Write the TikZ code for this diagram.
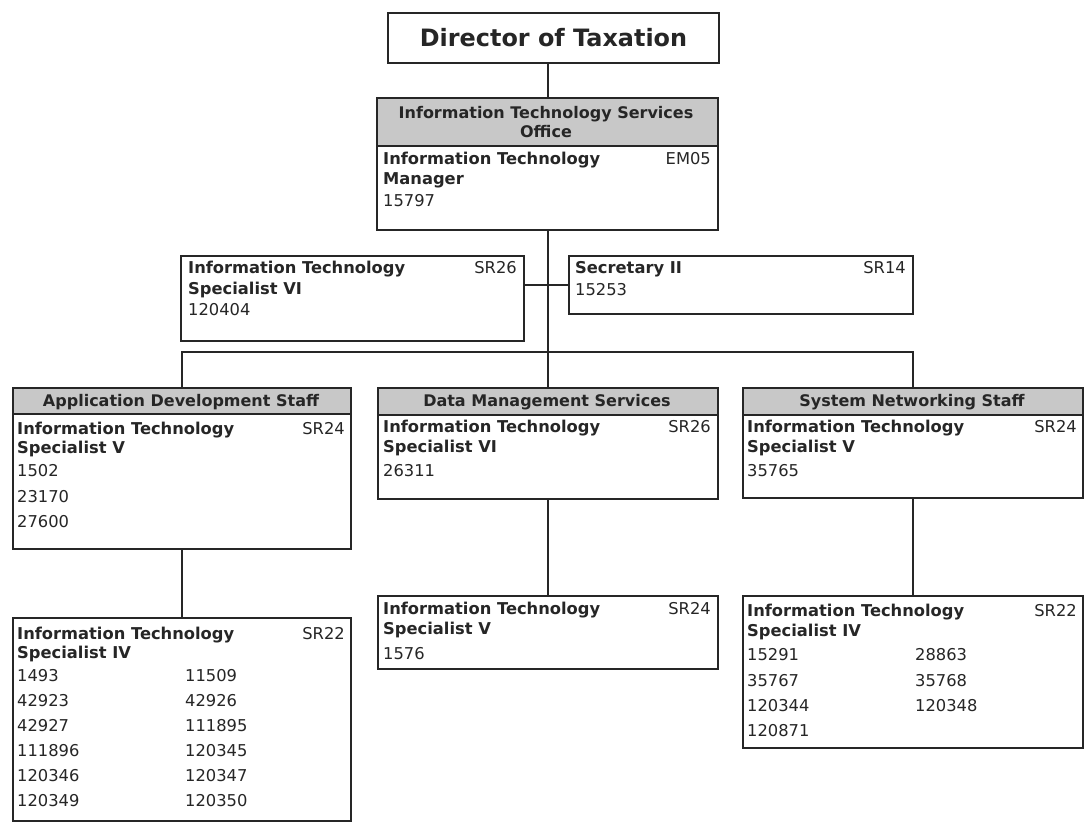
\documentclass[tikz,border=0pt]{standalone}
\usepackage{fontspec}
\setmainfont{DejaVu Sans}
\usetikzlibrary{calc}
\definecolor{ink}{HTML}{262626}
\definecolor{hdr}{HTML}{C8C8C8}
\newcommand{\fsn}{\fontsize{16.3}{19}\selectfont}
\newcommand{\fsh}{\fontsize{16}{19}\selectfont}
\newcommand{\fsbig}{\fontsize{23.9}{28}\selectfont}
\begin{document}
\begin{tikzpicture}[x=1pt,y=-1pt,
  box/.style={draw=ink, line width=2pt, fill=white, anchor=north west, inner sep=0pt},
  hdrbox/.style={draw=ink, line width=2pt, fill=hdr, anchor=north west, inner sep=0pt},
  conn/.style={draw=ink, line width=2pt},
  tb/.style={font=\fsn\bfseries, text=ink, inner sep=0pt, anchor=mid west, yshift=-2pt},
  tr/.style={font=\fsn, text=ink, inner sep=0pt, anchor=mid west, yshift=-2pt},
  grade/.style={font=\fsn, text=ink, inner sep=0pt, anchor=mid east, yshift=-2pt},
  th/.style={font=\fsh\bfseries, text=ink, inner sep=0pt, anchor=mid, yshift=-2pt}]
\useasboundingbox (0,0) rectangle (1088,827);
\fill[white] (0,0) rectangle (1088,827);

% ---------- boxes ----------
\node[box, minimum width=331pt, minimum height=50pt] (dir) at (387,12) {};
\node[box, minimum width=341pt, minimum height=132pt] (itso) at (376,97) {};
\node[hdrbox, minimum width=341pt, minimum height=48pt] (itsoh) at (376,97) {};
\node[box, minimum width=343pt, minimum height=85pt] (itsvi) at (180,255) {};
\node[box, minimum width=344pt, minimum height=58pt] (sec) at (568,255) {};
\node[box, minimum width=338pt, minimum height=161pt] (ad) at (12,387) {};
\node[hdrbox, minimum width=338pt, minimum height=26pt] (adh) at (12,387) {};
\node[box, minimum width=340pt, minimum height=111pt] (dm) at (377,387) {};
\node[hdrbox, minimum width=340pt, minimum height=27pt] (dmh) at (377,387) {};
\node[box, minimum width=340pt, minimum height=110pt] (sn) at (742,387) {};
\node[hdrbox, minimum width=340pt, minimum height=27pt] (snh) at (742,387) {};
\node[box, minimum width=338pt, minimum height=203pt] (ad4) at (12,617) {};
\node[box, minimum width=340pt, minimum height=73pt] (dm5) at (377,595) {};
\node[box, minimum width=340pt, minimum height=152pt] (sn4) at (742,595) {};
\path (itso.south) ++(0,121) coordinate (bus);

% ---------- connectors ----------
\draw[conn] (itso.north) -- (itso.north |- dir.south);
\draw[conn] (itso.south) -- (bus);
\draw[conn] (sec.west) -- (sec.west -| itsvi.east);
\draw[conn, line cap=rect] (ad.north |- bus) -- (sn.north |- bus);
\draw[conn] (ad.north |- bus) -- (ad.north);
\draw[conn] (dm.north |- bus) -- (dm.north);
\draw[conn] (sn.north |- bus) -- (sn.north);
\draw[conn] (ad.south) -- (ad4.north);
\draw[conn] (dm.south) -- (dm5.north);
\draw[conn] (sn.south) -- (sn4.north);

% ---------- texts ----------
\node[font=\fsbig\bfseries, text=ink, inner sep=0pt] (dirt) at (dir.center) {Director of Taxation};

\node[th] (h1a) at (546,114) {Information Technology Services};
\node[th] (h1b) at (546,133) {Office};
\node[tb] (a1) at (383,160) {Information Technology};
\node[tb] (a2) at (383,180) {Manager};
\node[tr] (a3) at (383,202) {15797};
\node[grade] (a4) at (711,160) {EM05};

\node[tb] (b1) at (188,269) {Information Technology};
\node[tb] (b2) at (188,290) {Specialist VI};
\node[tr] (b3) at (188,311) {120404};
\node[grade] (b4) at (517,269) {SR26};

\node[tb] (c1) at (575,269) {Secretary II};
\node[tr] (c2) at (575,291) {15253};
\node[grade] (c4) at (906,269) {SR14};

\node[th] (h2) at (181,402) {Application Development Staff};
\node[tb] (d1) at (17,430) {Information Technology};
\node[tb] (d2) at (17,449) {Specialist V};
\node[tr] (d3) at (17,472) {1502};
\node[tr] (d5) at (17,498) {23170};
\node[tr] (d6) at (17,523) {27600};
\node[grade] (d4) at (345,430) {SR24};

\node[th] (h3) at (547,402) {Data Management Services};
\node[tb] (e1) at (383,428) {Information Technology};
\node[tb] (e2) at (383,448) {Specialist VI};
\node[tr] (e3) at (383,472) {26311};
\node[grade] (e4) at (711,428) {SR26};

\node[th] (h4) at (912,402) {System Networking Staff};
\node[tb] (f1) at (747,428) {Information Technology};
\node[tb] (f2) at (747,448) {Specialist V};
\node[tr] (f3) at (747,472) {35765};
\node[grade] (f4) at (1077,428) {SR24};

\node[tb] (g1) at (17,635) {Information Technology};
\node[tb] (g2) at (17,654) {Specialist IV};
\node[grade] (g4) at (345,635) {SR22};
\node[tr] (g5) at (17,677) {1493};    \node[tr] (g6) at (185,677) {11509};
\node[tr] (g7) at (17,702) {42923};   \node[tr] (g8) at (185,702) {42926};
\node[tr] (g9) at (17,727) {42927};   \node[tr] (g10) at (185,727) {111895};
\node[tr] (g11) at (17,752) {111896}; \node[tr] (g12) at (185,752) {120345};
\node[tr] (g13) at (17,777) {120346}; \node[tr] (g14) at (185,777) {120347};
\node[tr] (g15) at (17,802) {120349}; \node[tr] (g16) at (185,802) {120350};

\node[tb] (i1) at (383,610) {Information Technology};
\node[tb] (i2) at (383,630) {Specialist V};
\node[tr] (i3) at (383,655) {1576};
\node[grade] (i4) at (711,610) {SR24};

\node[tb] (j1) at (747,612) {Information Technology};
\node[tb] (j2) at (747,632) {Specialist IV};
\node[grade] (j4) at (1077,612) {SR22};
\node[tr] (j5) at (747,656) {15291};  \node[tr] (j6) at (915,656) {28863};
\node[tr] (j7) at (747,682) {35767};  \node[tr] (j8) at (915,682) {35768};
\node[tr] (j9) at (747,707) {120344}; \node[tr] (j10) at (915,707) {120348};
\node[tr] (j11) at (747,732) {120871};
\end{tikzpicture}
\end{document}
